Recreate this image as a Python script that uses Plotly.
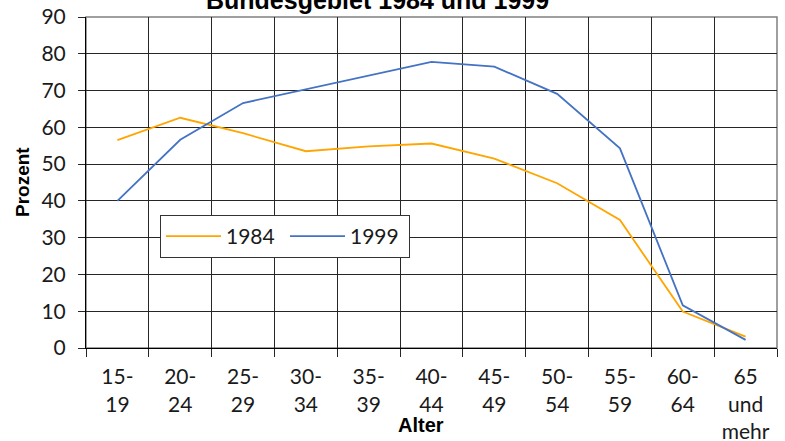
import plotly.graph_objects as go

# Age groups (x categories) and employment rates in percent
age_groups = ["15-<br>19", "20-<br>24", "25-<br>29", "30-<br>34", "35-<br>39",
              "40-<br>44", "45-<br>49", "50-<br>54", "55-<br>59", "60-<br>64",
              "65<br>und<br>mehr"]
rate_1984 = [56.5, 62.6, 58.4, 53.5, 54.8, 55.6, 51.5, 44.8, 34.8, 9.9, 3.1]
rate_1999 = [40.0, 56.6, 66.6, 70.4, 74.0, 77.8, 76.5, 69.1, 54.3, 11.6, 2.2]

series_names = ["1984", "1999"]
y_ticks = list(range(0, 91, 10))

FONT = "Lato"
W, H = 785, 441
L, R, T, B = 86, 8, 17, 93
plot_h = H - T - B

def py(px):
    """Convert a pixel row (from top) to paper y."""
    return (H - B - px) / plot_h

def px_x(px):
    return (px - L) / (W - L - R)

fig = go.Figure()
fig.add_trace(go.Scatter(x=age_groups, y=rate_1984, name=series_names[0], mode="lines",
                         line=dict(color="#FFA500", width=1.8)))
fig.add_trace(go.Scatter(x=age_groups, y=rate_1999, name=series_names[1], mode="lines",
                         line=dict(color="#4472C4", width=1.8)))

fig.update_layout(
    width=W, height=H,
    margin=dict(l=L, r=R, t=T, b=B, autoexpand=False),
    paper_bgcolor="white", plot_bgcolor="white",
    font=dict(family=FONT, size=21, color="#1a1a1a"),
    showlegend=True,
    legend=dict(orientation="h", x=px_x(160), xanchor="left", y=py(215), yanchor="top",
                bgcolor="white", bordercolor="#333333", borderwidth=1,
                font=dict(family=FONT, size=21, color="#1a1a1a"),
                itemwidth=55, entrywidth=54, entrywidthmode="pixels",
                tracegroupgap=0),
    xaxis=dict(type="category", tickson="boundaries", range=[-0.5, len(age_groups) - 0.5],
               showgrid=True, automargin=False,
               gridcolor="#262626", gridwidth=1,
               ticks="outside", ticklen=8, tickcolor="#262626",
               showline=True, linecolor="#000000", linewidth=1,
               tickfont=dict(family=FONT, size=21, color="#1a1a1a"),
               ticklabelstandoff=10),
    yaxis=dict(range=[0, 90], tickvals=y_ticks, showgrid=True, automargin=False,
               gridcolor="#262626", gridwidth=1,
               ticks="outside", ticklen=7, tickcolor="#262626",
               showline=True, linecolor="#000000", linewidth=1,
               zeroline=False,
               tickfont=dict(family=FONT, size=21, color="#1a1a1a"),
               ticklabelstandoff=8),
    shapes=[dict(type="rect", xref="paper", yref="paper", x0=0, x1=1, y0=0, y1=1,
                 line=dict(color="#808080", width=1.5), layer="below")],
    annotations=[
        dict(text="<b>Bundesgebiet 1984 und 1999</b>", xref="paper", yref="paper",
             x=px_x(377), y=py(0), xanchor="center", yanchor="middle",
             showarrow=False, font=dict(family="Liberation Sans", size=25, color="#000000")),
        dict(text="<b>Prozent</b>", xref="paper", yref="paper", textangle=-90,
             x=px_x(22), y=py(182), xanchor="center", yanchor="middle",
             showarrow=False, font=dict(family="Liberation Sans", size=19, color="#000000")),
        dict(text="<b>Alter</b>", xref="paper", yref="paper",
             x=px_x(421), y=py(425), xanchor="center", yanchor="middle",
             showarrow=False, font=dict(family="Liberation Sans", size=20, color="#000000")),
        dict(text="Quelle: Statistisches Bundesamt", xref="paper", yref="paper",
             x=px_x(30), y=py(437), xanchor="left", yanchor="top",
             showarrow=False, font=dict(family=FONT, size=20, color="#1a1a1a")),
    ],
)

fig.write_html("out.html")
